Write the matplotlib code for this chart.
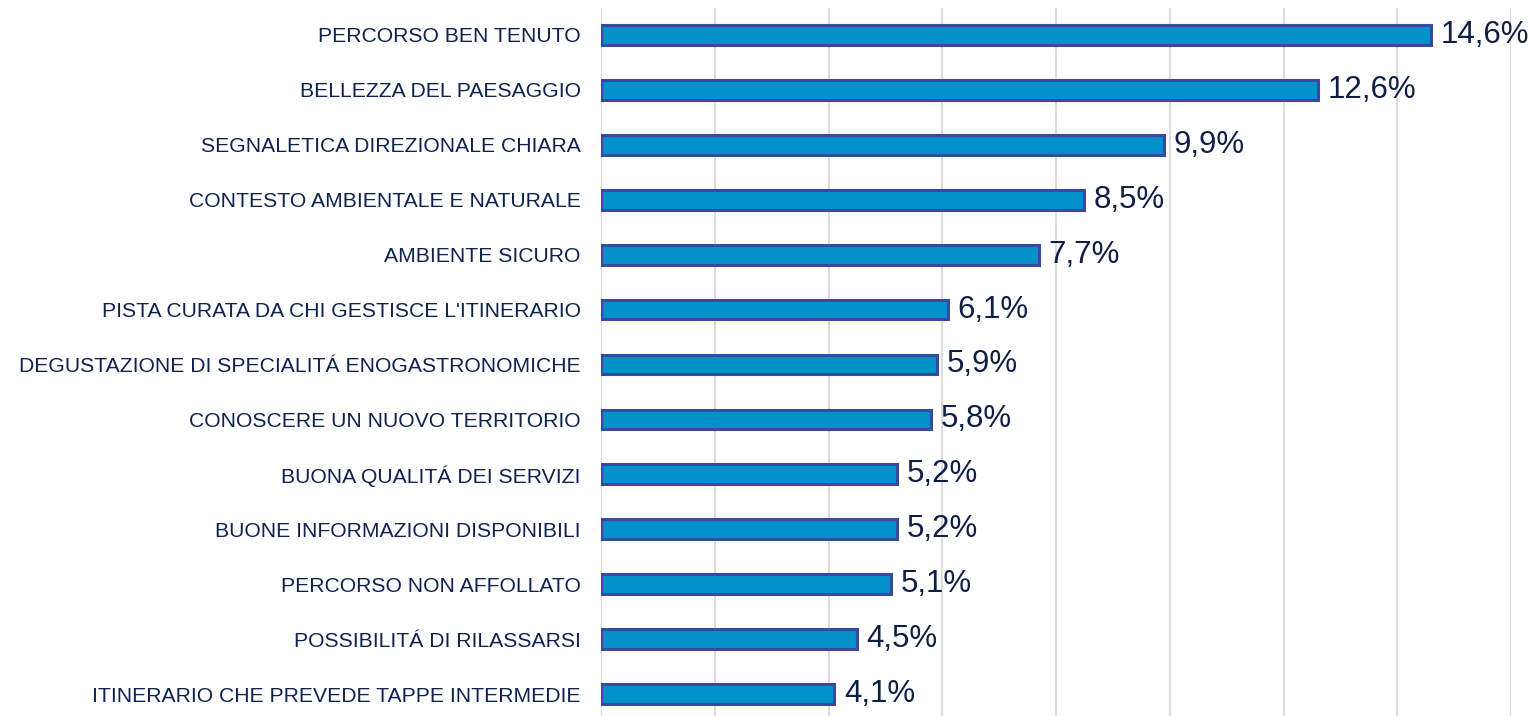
import matplotlib.pyplot as plt

# dati del grafico
categorie = [
    "PERCORSO BEN TENUTO",
    "BELLEZZA DEL PAESAGGIO",
    "SEGNALETICA DIREZIONALE CHIARA",
    "CONTESTO AMBIENTALE E NATURALE",
    "AMBIENTE SICURO",
    "PISTA CURATA DA CHI GESTISCE L'ITINERARIO",
    "DEGUSTAZIONE DI SPECIALITÁ ENOGASTRONOMICHE",
    "CONOSCERE UN NUOVO TERRITORIO",
    "BUONA QUALITÁ DEI SERVIZI",
    "BUONE INFORMAZIONI DISPONIBILI",
    "PERCORSO NON AFFOLLATO",
    "POSSIBILITÁ DI RILASSARSI",
    "ITINERARIO CHE PREVEDE TAPPE INTERMEDIE",
]
valori = [14.6, 12.6, 9.9, 8.5, 7.7, 6.1, 5.9, 5.8, 5.2, 5.2, 5.1, 4.5, 4.1]
griglia = [0, 2, 4, 6, 8, 10, 12, 14, 16]

plt.rcParams['font.family'] = ['Liberation Sans', 'DejaVu Sans']

W, H = 1535, 716
fig = plt.figure(figsize=(W / 100, H / 100), dpi=100)
ax = fig.add_axes([601 / W, -5.5 / H, 910 / W, 714 / H])

pos = list(range(len(categorie)))
ax.barh(pos, valori, height=0.36, color='#0091C9', edgecolor='#3A49A0', linewidth=2.2, zorder=3)

for p, v in zip(pos, valori):
    ax.text(v + 0.17, p, f"{v:.1f}%".replace('.', ','), va='center', ha='left',
            fontsize=22.5, color='#0E1F45')

ax.set_ylim(len(categorie) - 0.5, -0.5)
ax.set_xlim(0, 16)
ax.set_yticks(pos)
ax.set_yticklabels(categorie, fontsize=15.2, color='#0F2350')
ax.tick_params(axis='y', length=0, pad=14.5)
ax.set_xticks(griglia)
ax.tick_params(axis='x', length=0, labelbottom=False)
ax.grid(axis='x', color='#D9D9D9', linewidth=1.3, zorder=0)
for s in ax.spines.values():
    s.set_visible(False)

fig.savefig('out.png', dpi=100)
